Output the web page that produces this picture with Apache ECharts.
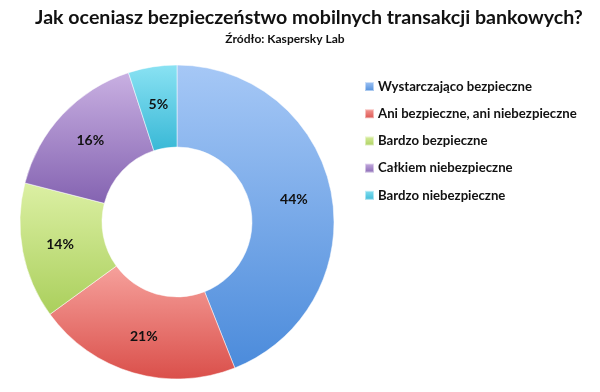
<!DOCTYPE html>
<html><head><meta charset="utf-8">
<script src="https://cdn.jsdelivr.net/npm/echarts@6/dist/echarts.min.js"></script>
<style>html,body{margin:0;padding:0;background:#fff}#c{width:600px;height:392px}</style>
</head><body><div id="c"></div>
<script>
const categories = ['Wystarczająco bezpieczne','Ani bezpieczne, ani niebezpieczne','Bardzo bezpieczne','Całkiem niebezpieczne','Bardzo niebezpieczne'];
const values = [44, 21, 14, 16, 5];
const lightColors = ['#A6C8F6','#F6A19C','#DCF0A4','#C9B0E2','#8AE2F3'];
const darkColors = ['#4B8BDB','#DA4F4A','#AACF5C','#8463B1','#38B8D6'];
const titleText = 'Jak oceniasz bezpieczeństwo mobilnych transakcji bankowych?';
const subtitleText = 'Źródło: Kaspersky Lab';

function grad(i){
  return new echarts.graphic.LinearGradient(0,0,0,1,[{offset:0,color:lightColors[i]},{offset:1,color:darkColors[i]}]);
}
const chart = echarts.init(document.getElementById('c'), null, {renderer:'canvas'});
const font = 'Lato, "Open Sans", sans-serif';
chart.setOption({
  animation:false,
  title:[
    {text:titleText,left:304,top:3,textAlign:'center',textStyle:{fontFamily:font,fontWeight:'bold',fontSize:19.6,color:'#111'}},
    {text:subtitleText,left:280,top:28,textAlign:'center',textStyle:{fontFamily:font,fontWeight:'bold',fontSize:12,color:'#111'}}
  ],
  legend:{
    orient:'vertical',left:359,top:75,itemGap:14.2,itemWidth:9,itemHeight:9,icon:'rect',
    textStyle:{fontFamily:font,fontWeight:'bold',fontSize:13.2,color:'#111',padding:[0,0,0,-1]},
    data:categories
  },
  series:[{
    type:'pie',center:[177,222],radius:[75,157],startAngle:90,clockwise:true,
    label:{show:true,position:'inside',formatter:'{c}%',fontFamily:font,fontWeight:'bold',fontSize:14,color:'#111'},
    labelLine:{show:false},
    itemStyle:{borderColor:'rgba(255,255,255,0.5)',borderWidth:1},
    emphasis:{disabled:true},
    data:categories.map((n,i)=>({name:n,value:values[i],itemStyle:{color:grad(i)}}))
  }]
});
</script></body></html>
